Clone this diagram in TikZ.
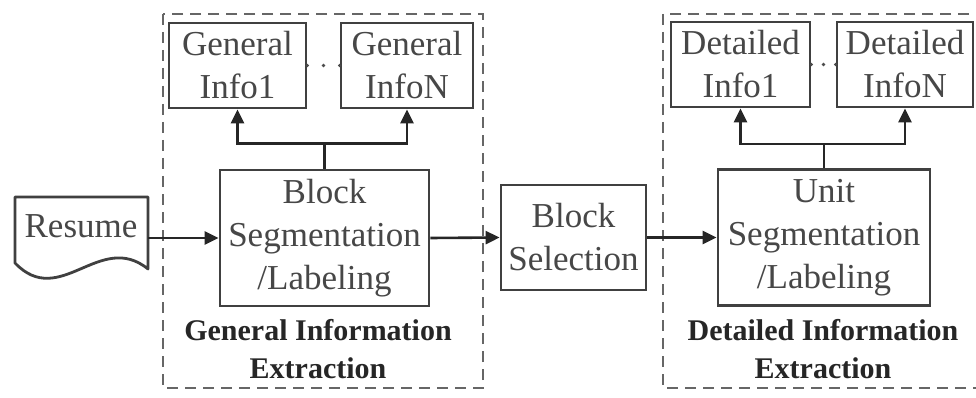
\documentclass[tikz,border=0pt]{standalone}
\usepackage{fontspec}
\setmainfont{Liberation Serif}
\usetikzlibrary{arrows.meta,calc}
\begin{document}
\begin{tikzpicture}[x=1pt,y=-1pt,
  box/.style={draw=black!75, line width=2.8pt, inner sep=0pt, align=center,
    text=black!72, font=\fontsize{35}{43}\selectfont},
  group/.style={draw=black!60, line width=2.6pt, dash pattern=on 11pt off 7pt},
  caption/.style={font=\fontsize{30}{38}\selectfont\bfseries, text=black!85, align=center},
  arr/.style={draw=black!85, line width=2.6pt, -{Triangle[length=14pt,width=13pt]}},
  wire/.style={draw=black!85, line width=2.6pt},
  dot/.style={fill=black!70},
]
\useasboundingbox (0,0) rectangle (976,398);
\clip (0,0) rectangle (976,398);
\fill[white] (0,0) rectangle (976,398);

% dashed stage frames
\draw[group] (163,14) rectangle (483,388);
\draw[group] (663,14) rectangle (1000,388);

% input document
\draw[draw=black!75, line width=2.8pt, line join=round]
  (15,197) -- (148,197) -- (148,269)
  .. controls (100,230) and (60,310) .. (15,263) -- cycle;
\node[inner sep=0pt, minimum width=133pt, minimum height=82pt] (resume) at (81.5,238) {};
\node[text=black!72, font=\fontsize{35}{43}\selectfont] (resumetxt) at (81,226) {Resume};

% general information stage
\node[box, minimum width=209pt, minimum height=136pt] (bseg) at (324.5,238)
  {Block\\Segmentation\\/Labeling};
\node[box, minimum width=137pt, minimum height=85pt] (gi1) at (237.5,65.5) {General\\Info1};
\node[box, minimum width=132pt, minimum height=85pt] (giN) at (407,65.5) {General\\InfoN};
\node[caption] (gcap) at (318,349) {General Information\\Extraction};

% block selection
\node[box, minimum width=145pt, minimum height=105pt] (bsel) at (573.5,237.5)
  {Block\\Selection};

% detailed information stage
\node[box, minimum width=212pt, minimum height=136pt] (useg) at (824,237.5)
  {Unit\\Segmentation\\/Labeling};
\node[box, minimum width=139pt, minimum height=85pt] (di1) at (740.5,64.5) {Detailed\\Info1};
\node[box, minimum width=136pt, minimum height=85pt] (diN) at (905,64.5) {Detailed\\InfoN};
\node[caption] (dcap) at (823,349) {Detailed Information\\Extraction};

% main flow
\draw[arr] (resume.east) -- (bseg.west);
\draw[arr] (bseg.east) -- (bsel.west);
\draw[arr] (bsel.east) -- (useg.west);

% fan-out to the general info boxes
\draw[wire] (bseg.north) -- ++(0,-25) coordinate (gsplit);
\draw[arr, line join=miter] (gsplit) -| (gi1.south);
\draw[arr, line join=miter] (gsplit) -| (giN.south);

% fan-out to the detailed info boxes
\draw[wire] (useg.north) -- ++(0,-24) coordinate (dsplit);
\draw[arr, line join=miter] (dsplit) -| (di1.south);
\draw[arr, line join=miter] (dsplit) -| (diN.south);

% ellipsis dots between the info boxes
\fill[dot] (gi1.east) circle (1.8pt);
\fill[dot] ($(gi1.east)!0.5!(giN.west)$) circle (1.8pt);
\fill[dot] (giN.west) circle (1.8pt);
\fill[dot] (di1.east) circle (1.8pt);
\fill[dot] ($(di1.east)!0.5!(diN.west)$) circle (1.8pt);
\fill[dot] (diN.west) circle (1.8pt);
\end{tikzpicture}
\end{document}
